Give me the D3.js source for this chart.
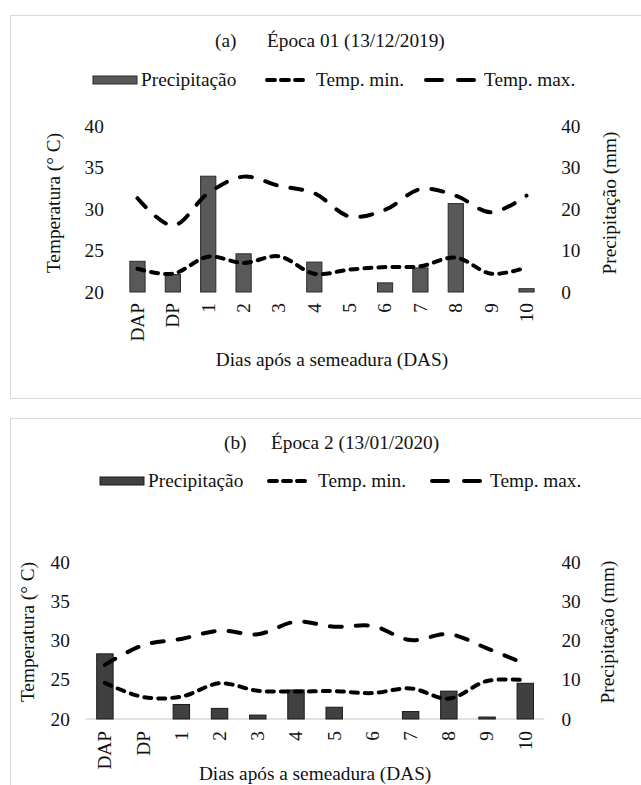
<!DOCTYPE html>
<html>
<head>
<meta charset="utf-8">
<script src="https://cdn.jsdelivr.net/npm/d3@7"></script>
<style>
  html, body { margin: 0; padding: 0; background: #fff; }
  svg { display: block; }
  svg text { font-family: "Liberation Serif", "DejaVu Serif", "Times New Roman", Times, serif !important; fill: #111; }
</style>
</head>
<body>
<svg id="chart" width="641" height="785"></svg>
<script>
// ---------- data ----------
const categories = ["DAP", "DP", "1", "2", "3", "4", "5", "6", "7", "8", "9", "10"];

// (a) Época 01 (13/12/2019)
const precipA = [7.4, 4.2, 27.9, 9.2, 0, 7.2, 0, 2.2, 5.8, 21.3, 0, 0.8];
const tminA   = [22.8, 22.2, 24.25, 23.5, 24.3, 22.2, 22.7, 23.0, 23.1, 24.15, 22.2, 22.95];
const tmaxA   = [31.3, 28.0, 31.9, 33.9, 32.8, 31.9, 29.1, 29.9, 32.4, 31.6, 29.6, 31.6];

// (b) Época 2 (13/01/2020)
const precipB = [16.6, 0, 3.7, 2.7, 1.0, 7.4, 3.0, 0, 1.9, 7.1, 0.5, 9.1];
const tminB   = [24.6, 22.8, 22.85, 24.55, 23.6, 23.5, 23.55, 23.3, 23.9, 22.6, 24.85, 24.95];
const tmaxB   = [26.9, 29.4, 30.2, 31.25, 30.8, 32.4, 31.75, 31.85, 30.05, 30.8, 29.0, 27.0];

const tempTicks   = [20, 25, 30, 35, 40];
const precipTicks = [0, 10, 20, 30, 40];

const legendLabels = ["Precipitação", "Temp. min.", "Temp. max."];
const xTitle = "Dias após a semeadura (DAS)";
const yLeftTitle = "Temperatura (° C)";
const yRightTitle = "Precipitação (mm)";

// ---------- drawing ----------
const svg = d3.select("#chart");
const FS = 19.3;
const FONT = "'Liberation Serif', 'DejaVu Serif', 'Times New Roman', Times, serif";

function styleText(sel) {
  return sel.style("font-size", FS + "px").style("font-family", FONT).attr("fill", "#111");
}

function drawPanel(cfg) {
  const g = svg.append("g");

  // frame
  g.append("rect")
    .attr("x", 10.5).attr("y", cfg.frameTop + 0.5)
    .attr("width", 640).attr("height", cfg.frameH)
    .attr("fill", "none").attr("stroke", "#d9d9d9").attr("stroke-width", 1);

  // title
  styleText(g.append("text").attr("x", cfg.titleX1).attr("y", cfg.titleY)).text(cfg.tag);
  styleText(g.append("text").attr("x", cfg.titleX2).attr("y", cfg.titleY)).text(cfg.title);

  const x = d3.scaleBand().domain(categories).range([cfg.left, cfg.right]).padding(0);
  const yT = d3.scaleLinear().domain([20, 40]).range([cfg.bottom, cfg.top]);
  const yP = d3.scaleLinear().domain([0, 40]).range([cfg.bottom, cfg.top]);
  const cx = d => x(d) + x.bandwidth() / 2;
  const bw = x.bandwidth() * 0.43;

  // baseline
  if (cfg.baseline) {
    g.append("line")
      .attr("x1", cfg.left).attr("x2", cfg.right)
      .attr("y1", yP(0)).attr("y2", yP(0))
      .attr("stroke", "#d9d9d9").attr("stroke-width", 1.5);
  }

  // bars
  g.append("g").selectAll("rect")
    .data(categories.map((c, i) => ({ c, v: cfg.precip[i] })).filter(d => d.v > 0))
    .join("rect")
    .attr("x", d => cx(d.c) - bw / 2)
    .attr("y", d => yP(d.v))
    .attr("width", bw)
    .attr("height", d => yP(0) - yP(d.v))
    .attr("fill", cfg.barFill)
    .attr("stroke", cfg.barStroke)
    .attr("stroke-width", 1);

  // lines
  const line = d3.line()
    .x((d, i) => cx(categories[i]))
    .y(d => yT(d))
    .curve(d3.curveCatmullRom.alpha(0.5));

  g.append("path").datum(cfg.tmin).attr("d", line)
    .attr("fill", "none").attr("stroke", "#000").attr("stroke-width", 4)
    .attr("stroke-linecap", "round").attr("stroke-dasharray", "7,7");
  g.append("path").datum(cfg.tmax).attr("d", line)
    .attr("fill", "none").attr("stroke", "#000").attr("stroke-width", 4)
    .attr("stroke-linecap", "round").attr("stroke-dasharray", "12,14");

  // left axis
  const ax1 = g.append("g").attr("transform", `translate(${cfg.left},0)`)
    .call(d3.axisLeft(yT).tickValues(tempTicks).tickSize(0).tickPadding(16));
  ax1.attr("font-family", null);
  ax1.select(".domain").remove();
  styleText(ax1.selectAll("text"));

  // right axis
  const ax2 = g.append("g").attr("transform", `translate(${cfg.right},0)`)
    .call(d3.axisRight(yP).tickValues(precipTicks).tickSize(0).tickPadding(17));
  ax2.attr("font-family", null);
  ax2.select(".domain").remove();
  styleText(ax2.selectAll("text"));

  // x axis
  const ax3 = g.append("g").attr("transform", `translate(0,${cfg.bottom})`)
    .call(d3.axisBottom(x).tickSize(0));
  ax3.attr("font-family", null);
  ax3.select(".domain").remove();
  styleText(ax3.selectAll("text"))
    .attr("transform", "rotate(-90)")
    .attr("x", -cfg.xLabelGap).attr("y", 0).attr("dy", "0.33em")
    .style("text-anchor", "end");

  // axis titles
  styleText(g.append("text")
    .attr("transform", `translate(${cfg.leftTitleX},${cfg.titleCY}) rotate(-90)`)
    .attr("text-anchor", "middle")).text(yLeftTitle);
  styleText(g.append("text")
    .attr("transform", `translate(${cfg.rightTitleX},${cfg.titleCY}) rotate(-90)`)
    .attr("text-anchor", "middle")).text(yRightTitle);
  styleText(g.append("text")
    .attr("x", (cfg.left + cfg.right) / 2).attr("y", cfg.xTitleY)
    .attr("text-anchor", "middle")).text(xTitle);

  // legend
  const L = cfg.legend;
  g.append("rect").attr("x", L.rectX).attr("y", L.y - 4).attr("width", 44).attr("height", 8)
    .attr("fill", cfg.barFill).attr("stroke", cfg.barStroke).attr("stroke-width", 1);
  styleText(g.append("text").attr("x", L.rectX + 48).attr("y", L.y + 6)).text(legendLabels[0]);
  g.append("line").attr("x1", L.minX + 2).attr("x2", L.minX + 42).attr("y1", L.y).attr("y2", L.y)
    .attr("stroke", "#000").attr("stroke-width", 4).attr("stroke-linecap", "round").attr("stroke-dasharray", "8,6");
  styleText(g.append("text").attr("x", L.minX + 51).attr("y", L.y + 6)).text(legendLabels[1]);
  g.append("line").attr("x1", L.maxX + 2).attr("x2", L.maxX + 52).attr("y1", L.y).attr("y2", L.y)
    .attr("stroke", "#000").attr("stroke-width", 4).attr("stroke-linecap", "round").attr("stroke-dasharray", "16,16");
  styleText(g.append("text").attr("x", L.maxX + 60).attr("y", L.y + 6)).text(legendLabels[2]);
}

drawPanel({
  frameTop: 15, frameH: 383,
  tag: "(a)", title: "Época 01 (13/12/2019)", titleX1: 215, titleX2: 267, titleY: 47,
  left: 119.8, right: 544.2, top: 126, bottom: 292,
  precip: precipA, tmin: tminA, tmax: tmaxA,
  barFill: "#595959", barStroke: "#2a2a2a", baseline: false,
  xLabelGap: 11,
  leftTitleX: 60, rightTitleX: 616, titleCY: 203, xTitleY: 366,
  legend: { y: 80, rectX: 93, minX: 265, maxX: 424 }
});

drawPanel({
  frameTop: 418, frameH: 400,
  tag: "(b)", title: "Época 2 (13/01/2020)", titleX1: 224, titleX2: 271, titleY: 449,
  left: 85.8, right: 544.4, top: 562, bottom: 719,
  precip: precipB, tmin: tminB, tmax: tmaxB,
  barFill: "#404040", barStroke: "#1a1a1a", baseline: true,
  xLabelGap: 12,
  leftTitleX: 34, rightTitleX: 614, titleCY: 632, xTitleY: 780,
  legend: { y: 481, rectX: 100, minX: 267, maxX: 430 }
});
</script>
</body>
</html>
